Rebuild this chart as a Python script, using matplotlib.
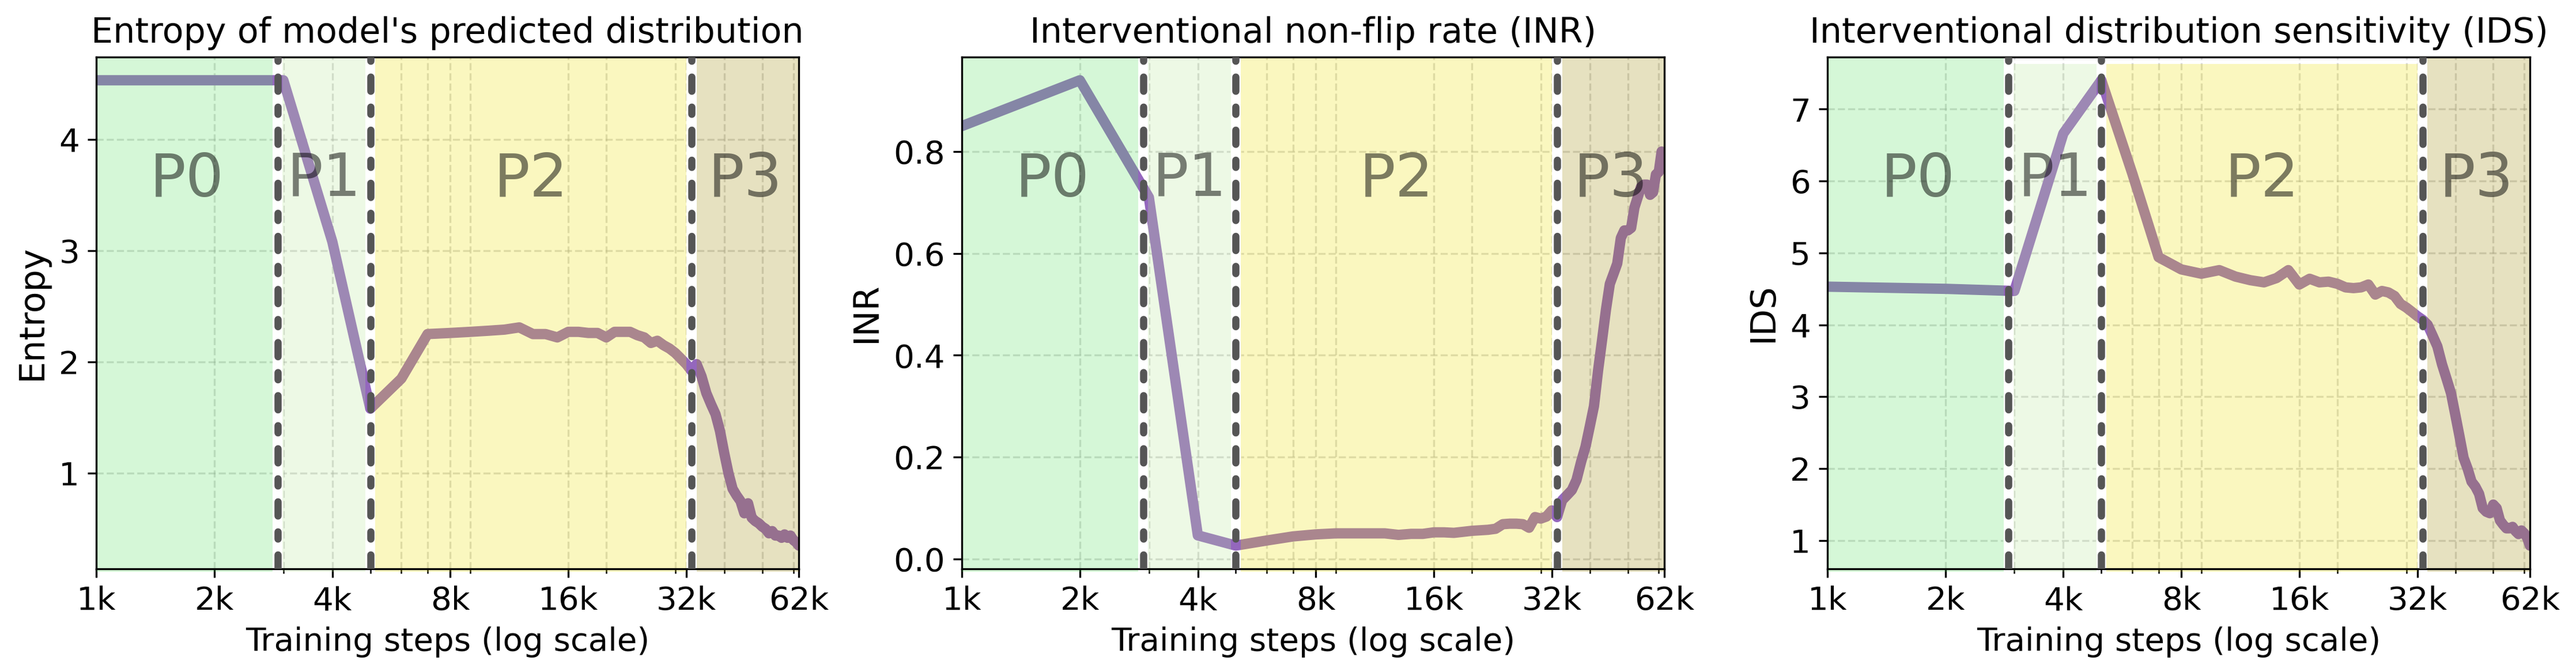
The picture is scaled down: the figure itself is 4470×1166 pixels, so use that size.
import numpy as np
import matplotlib.pyplot as plt
from matplotlib.ticker import FixedLocator, NullFormatter, MultipleLocator
from matplotlib.transforms import blended_transform_factory

# checkpoints every 1000 steps
steps = np.arange(1000, 63000, 1000)

entropy = [4.53, 4.53, 4.53, 3.08, 1.58, 1.85, 2.25, 2.26, 2.27, 2.28,
           2.29, 2.31, 2.25, 2.25, 2.22, 2.27, 2.27, 2.26, 2.26, 2.22,
           2.27, 2.27, 2.27, 2.24, 2.22, 2.17, 2.19, 2.15, 2.12, 2.08,
           2.03, 1.98, 1.92, 1.98, 1.87, 1.72, 1.62, 1.53, 1.38, 1.18,
           1.00, 0.86, 0.80, 0.75, 0.64, 0.73, 0.60, 0.57, 0.55, 0.52,
           0.50, 0.46, 0.48, 0.44, 0.44, 0.42, 0.45, 0.42, 0.44, 0.40,
           0.38, 0.35]

inr = [0.85, 0.94, 0.71, 0.046, 0.026, 0.036, 0.044, 0.048, 0.050, 0.050,
       0.050, 0.050, 0.047, 0.049, 0.049, 0.052, 0.052, 0.051, 0.053, 0.055,
       0.056, 0.057, 0.059, 0.068, 0.069, 0.069, 0.068, 0.061, 0.082, 0.079,
       0.083, 0.095, 0.082, 0.115, 0.125, 0.135, 0.155, 0.19, 0.22, 0.26,
       0.30, 0.37, 0.43, 0.49, 0.54, 0.56, 0.58, 0.63, 0.645, 0.645,
       0.65, 0.69, 0.71, 0.73, 0.735, 0.735, 0.715, 0.72, 0.755, 0.76,
       0.80, 0.79]

ids = [4.53, 4.50, 4.47, 6.66, 7.40, 6.10, 4.94, 4.77, 4.71, 4.76,
       4.67, 4.62, 4.59, 4.65, 4.76, 4.56, 4.64, 4.59, 4.60, 4.57,
       4.52, 4.51, 4.52, 4.56, 4.42, 4.47, 4.45, 4.40, 4.29, 4.24,
       4.18, 4.12, 4.07, 4.00, 3.85, 3.70, 3.45, 3.25, 3.05, 2.75,
       2.45, 2.15, 2.00, 1.82, 1.75, 1.65, 1.45, 1.40, 1.38, 1.50,
       1.45, 1.28, 1.22, 1.17, 1.17, 1.19, 1.13, 1.09, 1.14, 1.10,
       1.04, 0.93]

# phase boundaries (training steps)
bounds = [2900, 5000, 33000]
phase_names = ["P0", "P1", "P2", "P3"]
phase_colors = ["#5be363", "#bbeb9b", "#efe303", "#9f8b07"]

titles = ["Entropy of model's predicted distribution",
          "Interventional non-flip rate (INR)",
          "Interventional distribution sensitivity (IDS)"]
ylabels = ["Entropy", "INR", "IDS"]
ysteps = [1, 0.2, 1]
series = [entropy, inr, ids]

xticks = [1000, 2000, 4000, 8000, 16000, 32000, 62000]
xticklabels = ["1k", "2k", "4k", "8k", "16k", "32k", "62k"]
xmin, xmax = 1000, 62000

fig, axes = plt.subplots(1, 3, figsize=(14.9, 3.887), dpi=300)
plt.subplots_adjust(left=0.0374, right=0.9821, bottom=0.1535, top=0.9151, wspace=0.232)

for i, ax in enumerate(axes):
    ax.set_xscale("log")
    ax.plot(steps, series[i], color="tab:purple", lw=4.3, zorder=1,
            solid_capstyle="round", solid_joinstyle="round")

    edges = [xmin] + bounds + [xmax]
    g = 1.03
    for k in range(4):
        lo = edges[k] if k == 0 else edges[k] * g
        hi = edges[k + 1] if k == 3 else edges[k + 1] / g
        top = 0.986 if (i == 2 and k in (1, 2)) else 1.0
        ax.axvspan(lo, hi, ymin=-0.006, ymax=top, color=phase_colors[k],
                   alpha=0.25, lw=0, zorder=2, clip_on=False)
        xc = np.sqrt(edges[k] * edges[k + 1])
        trans = blended_transform_factory(ax.transData, ax.transAxes)
        ax.text(xc, 0.76, phase_names[k], transform=trans, ha="center",
                va="center", fontsize=25, color="k", alpha=0.5, zorder=5)

    for b in bounds:
        ax.axvline(b, color="white", lw=4.5, zorder=0.8)
        ax.axvline(b, color="#555555", lw=3.0, zorder=3,
                   linestyle=(0, (1.97, 2.2, 1.0, 2.2)), dash_capstyle="round")

    ax.set_xlim(xmin, xmax)
    ax.xaxis.set_major_locator(FixedLocator(xticks))
    ax.set_xticklabels(xticklabels)
    ax.xaxis.set_minor_formatter(NullFormatter())
    ax.yaxis.set_major_locator(MultipleLocator(ysteps[i]))
    ax.grid(True, which="both", linestyle="--", color="#a0a0a0", lw=0.8, alpha=0.4)
    ax.set_axisbelow(True)
    ax.tick_params(labelsize=13.5)
    ax.set_title(titles[i], fontsize=14.5)
    ax.set_xlabel("Training steps (log scale)", fontsize=13.5)
    ax.set_ylabel(ylabels[i], fontsize=14.5)

plt.savefig("out.png", dpi=300)
